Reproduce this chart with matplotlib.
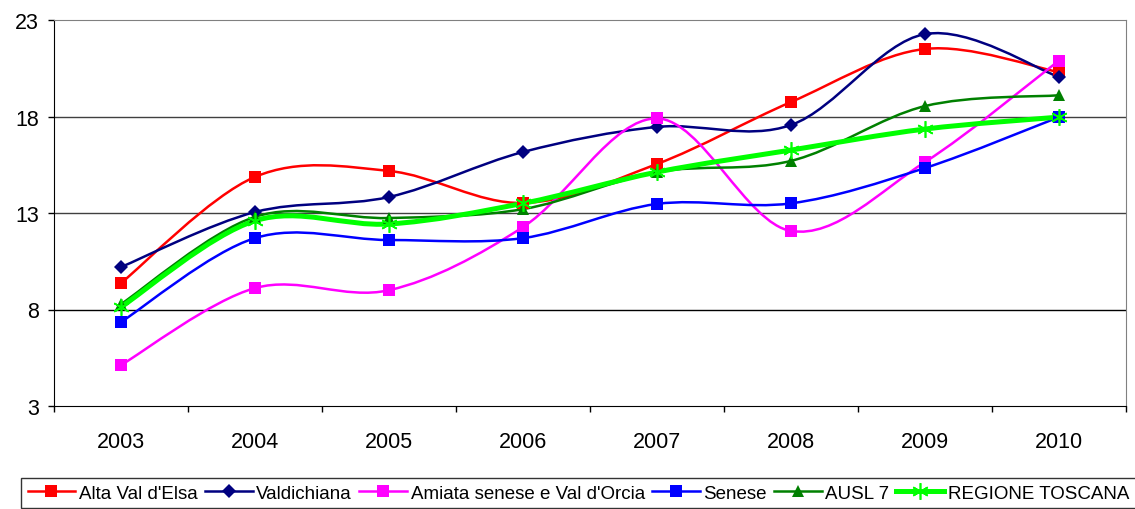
import numpy as np
import matplotlib
matplotlib.use('Agg')
import matplotlib.pyplot as plt
from matplotlib.path import Path
from matplotlib.patches import PathPatch
from matplotlib.lines import Line2D

plt.rcParams['font.family'] = ['Liberation Sans', 'DejaVu Sans']

years = ['2003', '2004', '2005', '2006', '2007', '2008', '2009', '2010']

alta_val_elsa = [9.37, 14.87, 15.18, 13.52, 15.54, 18.75, 21.5, 20.3]
valdichiana = [10.2, 13.05, 13.83, 16.16, 17.46, 17.56, 22.27, 20.05]
amiata = [5.12, 9.11, 9.0, 12.27, 17.9, 12.07, 15.64, 20.9]
senese = [7.35, 11.7, 11.6, 11.7, 13.47, 13.5, 15.33, 17.97]
ausl7 = [8.28, 12.8, 12.74, 13.2, 15.12, 15.7, 18.54, 19.1]
toscana = [8.13, 12.6, 12.43, 13.5, 15.12, 16.26, 17.35, 17.97]

series_names = ["Alta Val d'Elsa", 'Valdichiana', "Amiata senese e Val d'Orcia",
                'Senese', 'AUSL 7', 'REGIONE TOSCANA']


def smooth_path(xs, ys):
    # excel-like smoothed line: cubic bezier through the points
    pts = np.column_stack([xs, ys]).astype(float)
    n = len(pts)
    verts = [pts[0]]
    codes = [Path.MOVETO]
    for i in range(n - 1):
        p0 = pts[i - 1] if i > 0 else pts[i]
        p1 = pts[i]
        p2 = pts[i + 1]
        p3 = pts[i + 2] if i + 2 < n else pts[i + 1]
        verts += [p1 + (p2 - p0) / 6, p2 - (p3 - p1) / 6, p2]
        codes += [Path.CURVE4] * 3
    return Path(verts, codes)


fig = plt.figure(figsize=(11.35, 5.1), dpi=100)
ax = fig.add_axes([54 / 1135, 1 - 407 / 510, (1126 - 54) / 1135, (407 - 21) / 510])

x = np.arange(len(years))
styles = [
    (alta_val_elsa, '#FF0000', 's', 9, 1.8),
    (valdichiana, '#000080', 'D', 7.5, 1.8),
    (amiata, '#FF00FF', 's', 9, 1.8),
    (senese, '#0000FF', 's', 9, 1.8),
    (ausl7, '#008000', '^', 9, 1.8),
    (toscana, '#00FF00', (6, 2, 0), 12, 3.6),
]

handles = []
for (vals, col, mk, ms, lw), name in zip(styles, series_names):
    ax.add_patch(PathPatch(smooth_path(x, vals), fc='none', ec=col, lw=lw))
    mew = 1.2 if mk == (6, 2, 0) else 0
    ax.plot(x, vals, ls='none', marker=mk, ms=ms, color=col, mec=col, mew=mew)
    handles.append(Line2D([], [], color=col, lw=lw, marker=mk, ms=ms, mec=col, mew=mew))

ax.set_xlim(-0.5, 7.5)
ax.set_ylim(3, 23)
ax.set_yticks([3, 8, 13, 18, 23])
ax.set_xticks(x)
ax.set_xticklabels(years)
ax.set_xticks(np.arange(-0.5, 8, 1), minor=True)
ax.tick_params(axis='x', which='major', length=0, pad=18, labelsize=15.5)
ax.tick_params(axis='x', which='minor', length=4, direction='out', width=1)
ax.tick_params(axis='y', length=4, direction='out', pad=7, labelsize=15.5, width=1)

for yv in [8, 13, 18]:
    ax.axhline(yv, color='#404040' if yv != 8 else 'black', lw=1, zorder=0)

ax.spines['top'].set_color('#808080')
ax.spines['right'].set_color('#808080')
ax.spines['left'].set_color('black')
ax.spines['bottom'].set_color('black')

leg = fig.legend(handles, series_names, loc='upper left',
                 bbox_to_anchor=(21 / 1135, 1 - 479 / 510), ncol=6,
                 frameon=True, fancybox=False,
                 handlelength=2.55, handletextpad=0.2, columnspacing=0.37,
                 borderpad=0.35, borderaxespad=0,
                 prop={'family': 'Liberation Sans', 'size': 13.5})
leg.get_frame().set_edgecolor('black')
leg.get_frame().set_linewidth(1)

fig.savefig('out.png', dpi=100)
